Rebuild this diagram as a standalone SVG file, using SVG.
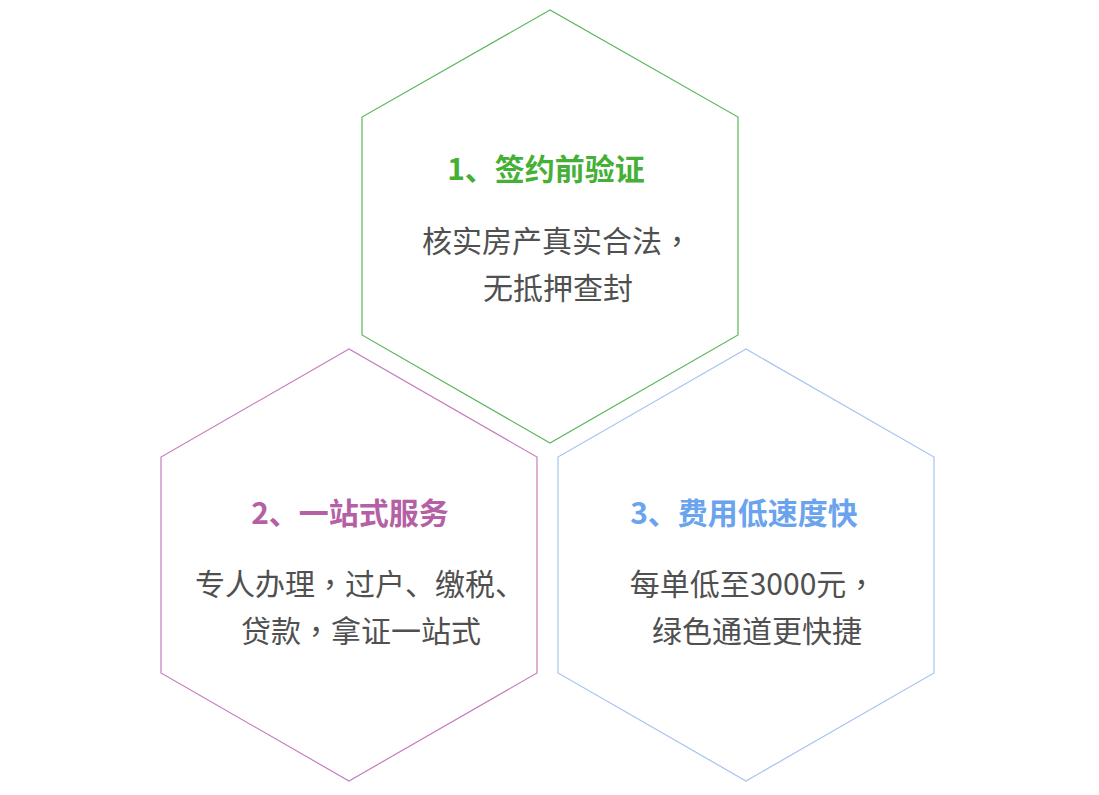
<svg xmlns="http://www.w3.org/2000/svg" width="1099" height="795" viewBox="0 0 1099 795">
<style>
.hex{fill:#ffffff;stroke-width:1.2}
.t{font-family:"Noto Sans CJK SC","Liberation Sans",sans-serif;font-size:30px;text-anchor:middle}
.title{font-weight:bold}
.body{fill:#505050}
.cm{font-family:"Noto Sans CJK TC","Noto Sans CJK SC",sans-serif}
</style>
<rect width="1099" height="795" fill="#ffffff"/>
<g id="connectors"></g>
<g id="node1">
<polygon class="hex" stroke="#5cb85c" points="550,10 362,117 362,335 550,443 738,335 738,117"/>
<text class="t title" x="546" y="180" fill="#45b035">1、签约前验证</text>
<text class="t body" x="557" y="252">核实房产真实合法<tspan class="cm">，</tspan></text>
<text class="t body" x="558" y="299">无抵押查封</text>
</g>
<g id="node2">
<polygon class="hex" stroke="#c77dbd" points="349,349 161,457 161,673 349,781 537,673 537,457"/>
<text class="t title" x="350" y="524" fill="#b560a5">2、一站式服务</text>
<text class="t body" x="360" y="595">专人办理<tspan class="cm">，</tspan>过户、缴税、</text>
<text class="t body" x="361" y="642">贷款<tspan class="cm">，</tspan>拿证一站式</text>
</g>
<g id="node3">
<polygon class="hex" stroke="#a7c3f0" points="746,349 558,457 558,673 746,781 934,673 934,457"/>
<text class="t title" x="744" y="524" fill="#6aa3ee">3、费用低速度快</text>
<text class="t body" x="753" y="595">每单低至3000元<tspan class="cm">，</tspan></text>
<text class="t body" x="757" y="642">绿色通道更快捷</text>
</g>
</svg>
